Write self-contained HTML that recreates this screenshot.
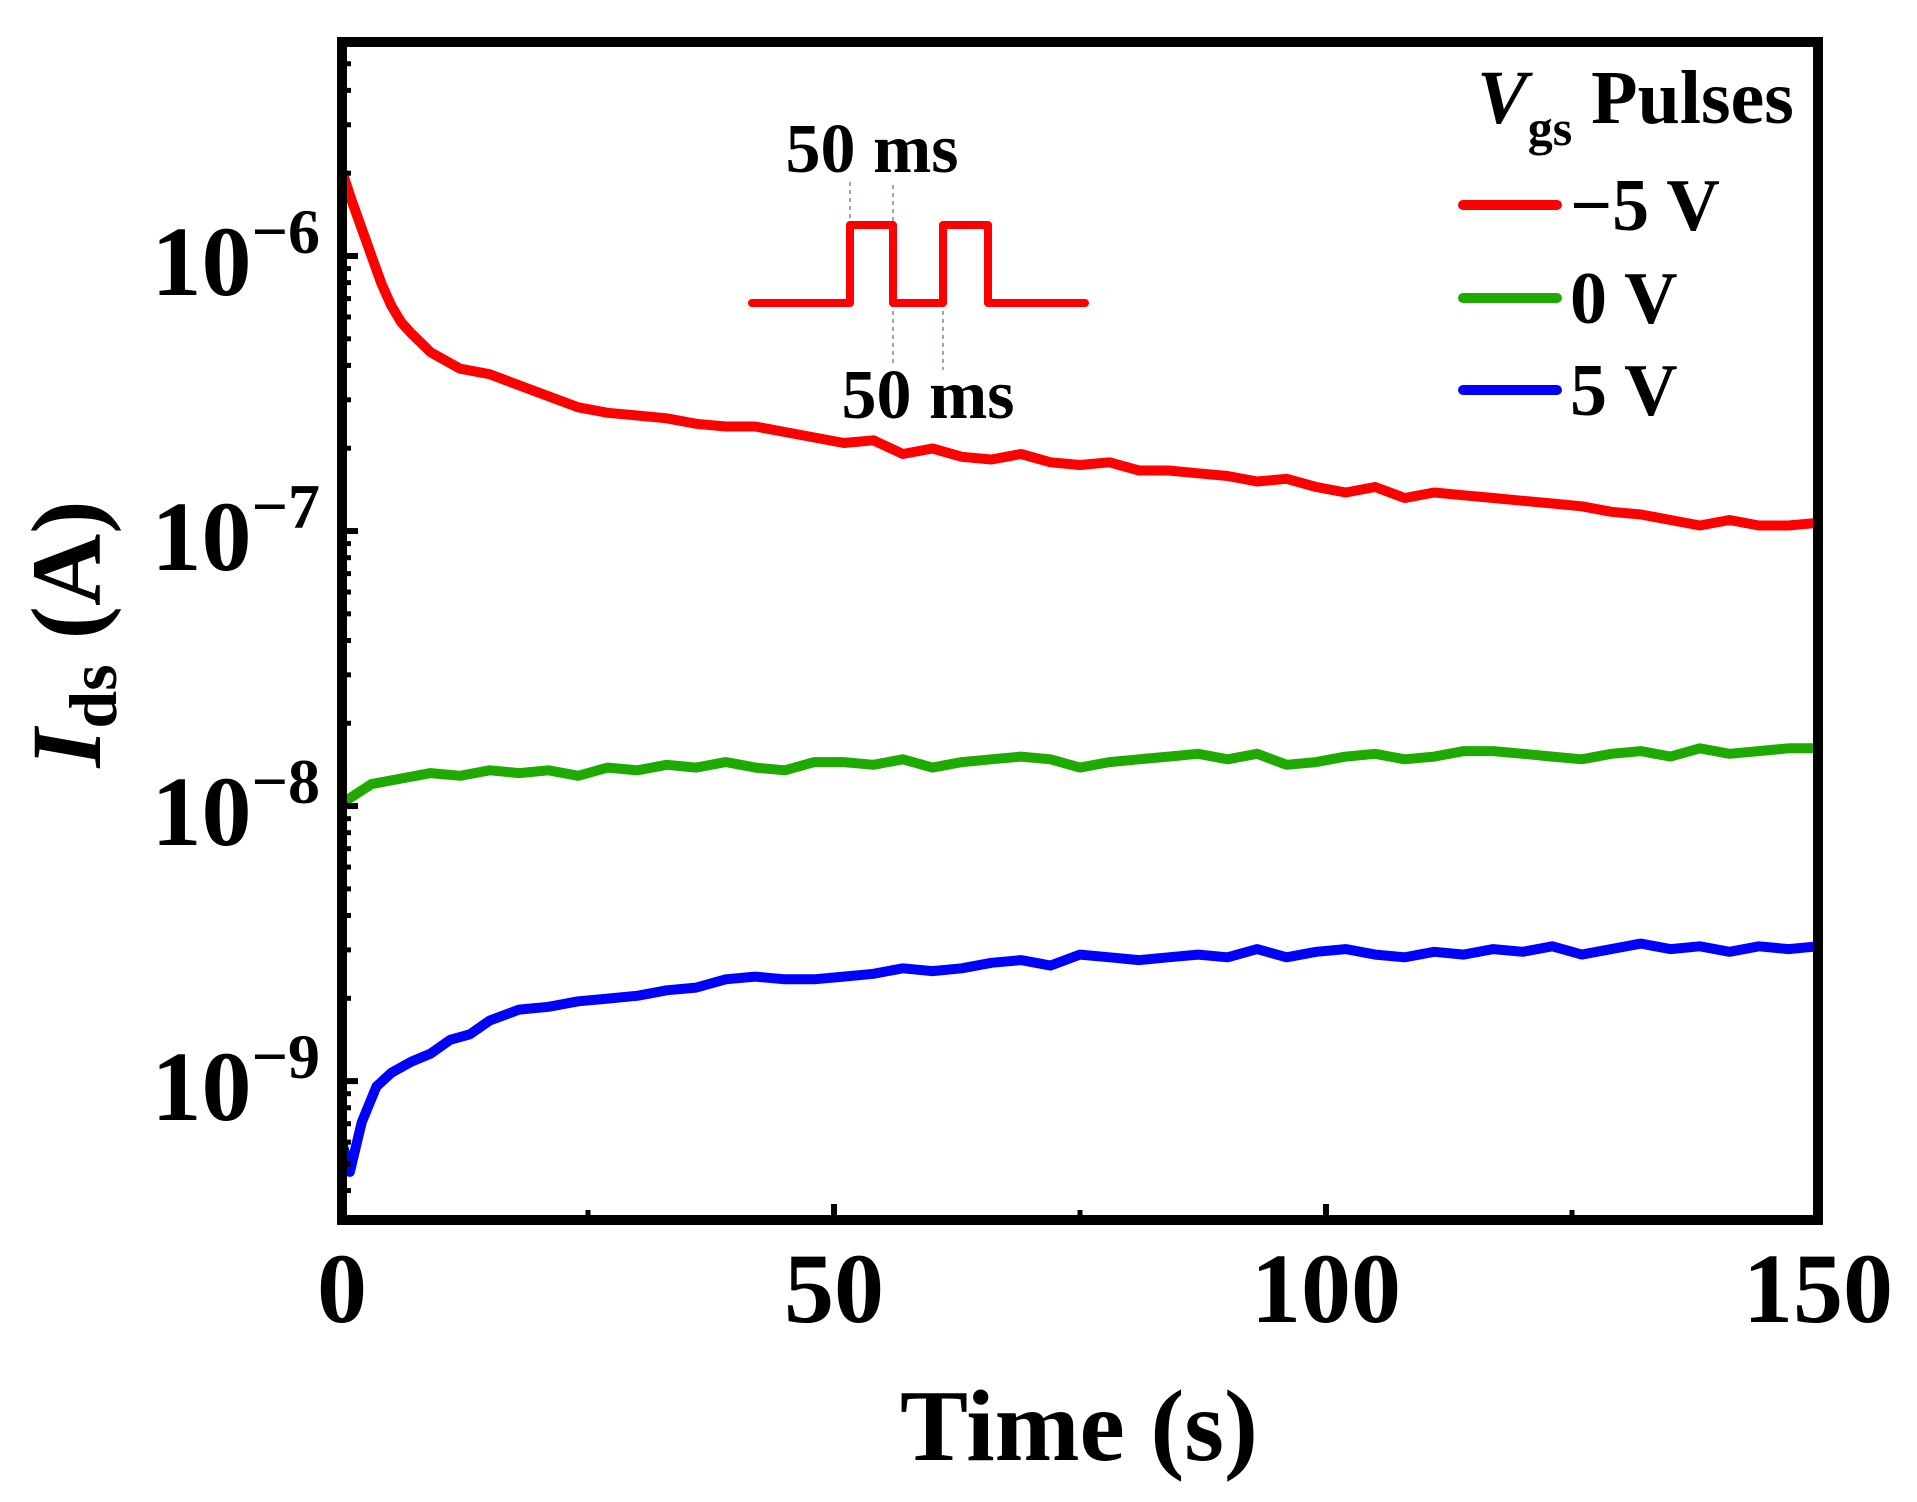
<!DOCTYPE html>
<html><head><meta charset="utf-8"><style>
html,body{margin:0;padding:0;background:#fff;}
svg{display:block;font-family:"Liberation Serif","Times New Roman",serif;font-weight:bold;}
</style></head><body>
<svg id="chart" width="1917" height="1502" viewBox="0 0 1917 1502" xmlns="http://www.w3.org/2000/svg">
<g id="series"></g>
<g id="axes"></g>
<rect x="342" y="42" width="1476" height="1178" fill="none" stroke="#000" stroke-width="10"/>
<g><text x="1079" y="1460" font-size="102" text-anchor="middle">Time (s)</text></g>
<g transform="translate(100,634) rotate(-90)">
<text x="0" y="0" font-size="100" text-anchor="middle"><tspan font-style="italic">I</tspan><tspan font-size="68" dy="16">ds</tspan><tspan dy="-16"> (A)</tspan></text></g>
<g>
<line x1="850" y1="182" x2="850" y2="225" stroke="#9aa" stroke-width="2" stroke-dasharray="4,4"/>
<line x1="893" y1="185" x2="893" y2="225" stroke="#9aa" stroke-width="2" stroke-dasharray="4,4"/>
<line x1="893" y1="303" x2="893" y2="367" stroke="#9aa" stroke-width="2" stroke-dasharray="4,4"/>
<line x1="943" y1="303" x2="943" y2="370" stroke="#9aa" stroke-width="2" stroke-dasharray="4,4"/>
<polyline points="752,303 850,303 850,225 893,225 893,303 943,303 943,225 988,225 988,303 1085,303" fill="none" stroke="#f00" stroke-width="8" stroke-linejoin="round" stroke-linecap="round"/>
<text x="872" y="172" font-size="70" text-anchor="middle">50 ms</text>
<text x="928" y="418" font-size="70" text-anchor="middle">50 ms</text>
</g>
<g>
<text x="1477" y="123" font-size="76"><tspan font-style="italic">V</tspan><tspan font-size="50" dy="22">gs</tspan><tspan dy="-22"> Pulses</tspan></text>
<line x1="1463" y1="205" x2="1557" y2="205" stroke="#f00" stroke-width="10" stroke-linecap="round"/>
<text x="1570" y="230" font-size="74">−5 V</text>
<line x1="1463" y1="298" x2="1557" y2="298" stroke="#1eaa00" stroke-width="10" stroke-linecap="round"/>
<text x="1570" y="323" font-size="74">0 V</text>
<line x1="1463" y1="390" x2="1557" y2="390" stroke="#00f" stroke-width="10" stroke-linecap="round"/>
<text x="1570" y="415" font-size="74">5 V</text>
</g>
</svg>
<script>
// data (log10 of current in A)
const redT=[0,1,2,3,4,5,6,7,9,12,15,18,21,24,27,30,33,36,39,42,45,48,51,54,57,60,63,66,69,72,75,78,81,84,87,90,93,96,99,102,105,108,111,114,117,120,123,126,129,132,135,138,141,144,147,150];
const redV=[-5.69,-5.80,-5.90,-6.00,-6.10,-6.18,-6.24,-6.28,-6.35,-6.41,-6.43,-6.47,-6.51,-6.55,-6.57,-6.58,-6.59,-6.61,-6.62,-6.62,-6.64,-6.66,-6.68,-6.67,-6.72,-6.70,-6.73,-6.74,-6.72,-6.75,-6.76,-6.75,-6.78,-6.78,-6.79,-6.80,-6.82,-6.81,-6.84,-6.86,-6.84,-6.88,-6.86,-6.87,-6.88,-6.89,-6.90,-6.91,-6.93,-6.94,-6.96,-6.98,-6.96,-6.98,-6.98,-6.97];
const greenT=[0,3,6,9,12,15,18,21,24,27,30,33,36,39,42,45,48,51,54,57,60,63,66,69,72,75,78,81,84,87,90,93,96,99,102,105,108,111,114,117,120,123,126,129,132,135,138,141,144,147,150];
const greenV=[-7.99,-7.92,-7.90,-7.88,-7.89,-7.87,-7.88,-7.87,-7.89,-7.86,-7.87,-7.85,-7.86,-7.84,-7.86,-7.87,-7.84,-7.84,-7.85,-7.83,-7.86,-7.84,-7.83,-7.82,-7.83,-7.86,-7.84,-7.83,-7.82,-7.81,-7.83,-7.81,-7.85,-7.84,-7.82,-7.81,-7.83,-7.82,-7.80,-7.80,-7.81,-7.82,-7.83,-7.81,-7.80,-7.82,-7.79,-7.81,-7.80,-7.79,-7.79];
const blueT=[0,0.8,2,3.5,5,7,9,11,13,15,18,21,24,27,30,33,36,39,42,45,48,51,54,57,60,63,66,69,72,75,78,81,84,87,90,93,96,99,102,105,108,111,114,117,120,123,126,129,132,135,138,141,144,147,150];
const blueV=[-9.22,-9.33,-9.15,-9.02,-8.97,-8.93,-8.90,-8.85,-8.83,-8.78,-8.74,-8.73,-8.71,-8.70,-8.69,-8.67,-8.66,-8.63,-8.62,-8.63,-8.63,-8.62,-8.61,-8.59,-8.60,-8.59,-8.57,-8.56,-8.58,-8.54,-8.55,-8.56,-8.55,-8.54,-8.55,-8.52,-8.55,-8.53,-8.52,-8.54,-8.55,-8.53,-8.54,-8.52,-8.53,-8.51,-8.54,-8.52,-8.50,-8.52,-8.51,-8.53,-8.51,-8.52,-8.51];
const xTicks=[0,50,100,150];
const xMinorTicks=[25,75,125];
const yDecades=[-6,-7,-8,-9];
const yDecadeLabels=["−6","−7","−8","−9"];

const NS="http://www.w3.org/2000/svg";
const X0=342,X1=1818,Y0=42,Y1=1220;
const xMin=0,xMax=150,yTop=-5.222,yBot=-9.505;
function xs(t){return X0+(t-xMin)/(xMax-xMin)*(X1-X0);}
function ys(v){return Y0+(yTop-v)/(yTop-yBot)*(Y1-Y0);}
function mk(tag,attrs,parent){const e=document.createElementNS(NS,tag);for(const k in attrs)e.setAttribute(k,attrs[k]);parent.appendChild(e);return e;}
const axes=document.getElementById('axes');
const series=document.getElementById('series');

xTicks.forEach(t=>{
  const l=mk('line',{x1:xs(t),x2:xs(t),y1:Y1,y2:Y1-16,stroke:'#000','stroke-width':6},axes);
  
  
  const tx=mk('text',{x:xs(t),y:1322,'font-size':100,'text-anchor':'middle'},axes);
  tx.textContent=String(t);
  
  
});
xMinorTicks.forEach(t=>{
  const l=mk('line',{x1:xs(t),x2:xs(t),y1:Y1,y2:Y1-10,stroke:'#000','stroke-width':5},axes);
  
  
});
yDecades.forEach((d,i)=>{
  const y=ys(d);
  const l=mk('line',{x1:X0,x2:X0+16,y1:y,y2:y,stroke:'#000','stroke-width':6},axes);
  
  
  const tx=mk('text',{x:320,y:y+39,'font-size':100,'text-anchor':'end'},axes);
  
  
  const a=document.createElementNS(NS,'tspan');a.textContent='10';tx.appendChild(a);
  const b=document.createElementNS(NS,'tspan');b.setAttribute('font-size','64');b.setAttribute('dy','-42');b.textContent=yDecadeLabels[i];tx.appendChild(b);
});
for(let d=-10;d<=-5;d++){
  for(let m=2;m<=9;m++){
    const v=d+Math.log10(m);
    if(v>yTop||v<yBot)continue;
    const y=ys(v);
    const l=mk('line',{x1:X0,x2:X0+9,y1:y,y2:y,stroke:'#000','stroke-width':5},axes);
    
    
  }
}
function draw(T,V,color,name){
  const n=Math.min(T.length,V.length);
  let d='';
  for(let i=0;i<n;i++)d+=(i?'L':'M')+xs(T[i]).toFixed(1)+','+ys(V[i]).toFixed(1);
  const p=mk('path',{d:d,fill:'none',stroke:color,'stroke-width':10,'stroke-linejoin':'round','stroke-linecap':'round'},series);
  
  
}
draw(redT,redV,'#f00','series-neg5v');
draw(greenT,greenV,'#1eaa00','series-0v');
draw(blueT,blueV,'#00f','series-5v');
</script>
</body></html>
